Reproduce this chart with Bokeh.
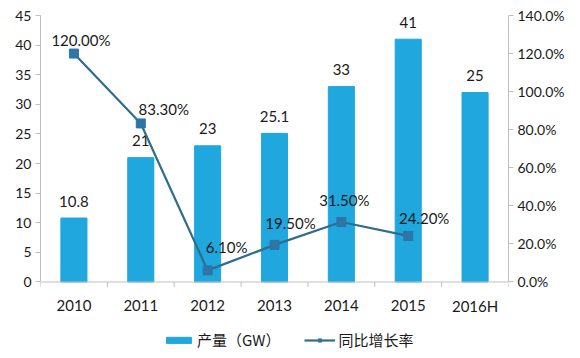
import numpy as np
from bokeh.plotting import figure
from bokeh.models import (Range1d, LinearAxis, FixedTicker, PrintfTickFormatter,
                          ColumnDataSource, Legend, LegendItem, Span)
from bokeh.core.properties import value
from bokeh.embed import file_html
from bokeh.resources import INLINE

# ---- data ----
years = ["2010", "2011", "2012", "2013", "2014", "2015", "2016H"]
output_gw = [10.8, 21, 23, 25.1, 33, 41, 32]
output_labels = ["10.8", "21", "23", "25.1", "33", "41", "25"]
growth_years = ["2010", "2011", "2012", "2013", "2014", "2015"]
growth_pct = [120.0, 83.3, 6.1, 19.5, 31.5, 24.2]
growth_labels = ["120.00%", "83.30%", "6.10%", "19.50%", "31.50%", "24.20%"]
left_ticks = [0, 5, 10, 15, 20, 25, 30, 35, 40, 45]
right_ticks = [0, 20, 40, 60, 80, 100, 120, 140]

# ---- styles ----
BAR_COLOR = "#1FA7DE"
LINE_COLOR = "#2F6C8F"
MARK_COLOR = "#2E75A8"
AXIS_COLOR = "#BFBFBF"
TEXT_COLOR = "#1A1A1A"
FONT = "Lato"
CJK = "Noto Sans CJK SC"
label_dx = [7, 23, 19, 16, 3, 16]
label_dy = [-14, -14, -23, -22, -22, -18]

pos = {y: i + 0.5 for i, y in enumerate(years)}
bx = [pos[y] for y in years]
gx = [pos[y] for y in growth_years]
bounds_x = list(range(len(years) + 1))

p = figure(width=580, height=358, output_backend="svg", toolbar_location=None,
           x_range=Range1d(0, len(years)), y_range=Range1d(-12.92, 45),
           min_border_left=40, min_border_right=72, min_border_top=15, min_border_bottom=0,
           y_axis_location=None, x_axis_location=None)
p.outline_line_color = None
p.xgrid.visible = False
p.ygrid.visible = False
p.background_fill_color = "white"
p.border_fill_color = "white"
p.extra_y_ranges = {"pct": Range1d(-40.19, 140)}

# y axes
yl = LinearAxis(ticker=FixedTicker(ticks=left_ticks), bounds=(0, 45))
yr = LinearAxis(y_range_name="pct", ticker=FixedTicker(ticks=right_ticks),
                formatter=PrintfTickFormatter(format="%.1f%%"), bounds=(0, 140))
for ax in (yl, yr):
    ax.axis_line_color = AXIS_COLOR
    ax.major_tick_line_color = AXIS_COLOR
    ax.minor_tick_line_color = None
    ax.major_tick_in = 0
    ax.major_tick_out = 5
    ax.major_label_text_font = FONT
    ax.major_label_text_font_size = "14px"
    ax.major_label_text_color = TEXT_COLOR
    ax.major_label_standoff = 4
p.add_layout(yl, "left")
p.add_layout(yr, "right")

# category axis (baseline, boundary ticks, labels)
p.add_layout(Span(location=0, dimension="width", line_color=AXIS_COLOR, line_width=1))
p.ray(x=bounds_x, y=[0] * len(bounds_x), length=5, length_units="screen",
      angle=-np.pi / 2, line_color=AXIS_COLOR, line_width=1)
p.text(x=bx, y=[0] * len(bx), text=years, text_align="center", text_baseline="middle",
       y_offset=24, text_font=value(FONT), text_font_size="15px", text_color=TEXT_COLOR)

# bars
bsrc = ColumnDataSource(dict(x=bx, top=output_gw, lab=output_labels))
bars = p.vbar(x="x", top="top", bottom=0, width=0.39, source=bsrc, fill_color=BAR_COLOR,
              line_color=BAR_COLOR)
p.text(x="x", y="top", text="lab", source=bsrc, text_align="center",
       text_baseline="middle", y_offset=-17, text_font=value(FONT),
       text_font_size="15px", text_color=TEXT_COLOR)

# line
gsrc = ColumnDataSource(dict(x=gx, y=growth_pct, lab=growth_labels,
                             dx=label_dx, dy=label_dy))
ln = p.line(x="x", y="y", source=gsrc, y_range_name="pct", line_color=LINE_COLOR,
            line_width=2.2)
mk = p.scatter(x="x", y="y", source=gsrc, y_range_name="pct", marker="square",
               size=9, fill_color=MARK_COLOR, line_color=MARK_COLOR)
p.text(x="x", y="y", text="lab", source=gsrc, y_range_name="pct",
       x_offset="dx", y_offset="dy", text_align="center", text_baseline="middle",
       text_font=value(FONT), text_font_size="15px", text_color=TEXT_COLOR)

legend = Legend(items=[LegendItem(label="产量（GW）", renderers=[bars]),
                       LegendItem(label="同比增长率", renderers=[ln, mk])],
                orientation="horizontal", location=(123, 8),
                label_text_font=CJK, label_text_font_size="15px",
                label_text_color=TEXT_COLOR, glyph_width=31, glyph_height=8,
                label_height=16, spacing=24, padding=0, margin=0,
                border_line_color=None, background_fill_alpha=0, label_standoff=3)
p.add_layout(legend)

open("out.html", "w").write(file_html(p, INLINE))
